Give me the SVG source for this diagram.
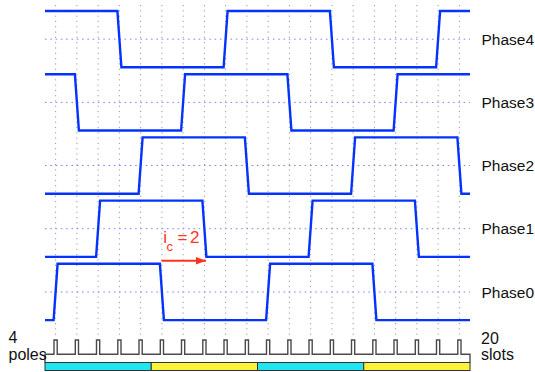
<svg xmlns="http://www.w3.org/2000/svg" width="535" height="372" viewBox="0 0 535 372">
<style>
.vgrid{stroke:#9a9a9a;stroke-width:1;stroke-dasharray:1.2 4.1;fill:none}
.hgrid{stroke:#7a88ff;stroke-width:1;stroke-dasharray:1.6 3.7;fill:none}
.wave{stroke:#0433ff;stroke-width:2.4;fill:none;stroke-linejoin:miter}
.lbl{font-family:"Liberation Sans",Arial,Helvetica,sans-serif;font-size:15.5px;fill:#111}
.blbl{font-family:"Liberation Sans",Arial,Helvetica,sans-serif;font-size:16px;fill:#111}
.red{font-family:"Liberation Sans",Arial,Helvetica,sans-serif;fill:#ff3322}
.slots{stroke:#4a4a4a;stroke-width:1.4;fill:#fff}
.bar{stroke:#333;stroke-width:1}
</style>
<defs>
<marker id="ah" markerWidth="10" markerHeight="8" refX="10" refY="4" orient="auto" markerUnits="userSpaceOnUse">
<path d="M0,0.3 L10,4 L0,7.7 Z" fill="#ff3322"/>
</marker>
</defs>
<rect width="535" height="372" fill="#fff"/>
<g id="grid">
<g class="vgrid">
<line x1="55.625" y1="5" x2="55.625" y2="336"/>
<line x1="76.875" y1="5" x2="76.875" y2="336"/>
<line x1="98.125" y1="5" x2="98.125" y2="336"/>
<line x1="119.375" y1="5" x2="119.375" y2="336"/>
<line x1="140.625" y1="5" x2="140.625" y2="336"/>
<line x1="161.875" y1="5" x2="161.875" y2="336"/>
<line x1="183.125" y1="5" x2="183.125" y2="336"/>
<line x1="204.375" y1="5" x2="204.375" y2="336"/>
<line x1="225.625" y1="5" x2="225.625" y2="336"/>
<line x1="246.875" y1="5" x2="246.875" y2="336"/>
<line x1="268.125" y1="5" x2="268.125" y2="336"/>
<line x1="289.375" y1="5" x2="289.375" y2="336"/>
<line x1="310.625" y1="5" x2="310.625" y2="336"/>
<line x1="331.875" y1="5" x2="331.875" y2="336"/>
<line x1="353.125" y1="5" x2="353.125" y2="336"/>
<line x1="374.375" y1="5" x2="374.375" y2="336"/>
<line x1="395.625" y1="5" x2="395.625" y2="336"/>
<line x1="416.875" y1="5" x2="416.875" y2="336"/>
<line x1="438.125" y1="5" x2="438.125" y2="336"/>
<line x1="459.375" y1="5" x2="459.375" y2="336"/>
</g>
<g class="hgrid">
<line x1="45" y1="39.2" x2="470" y2="39.2"/>
<line x1="45" y1="102.4" x2="470" y2="102.4"/>
<line x1="45" y1="165.5" x2="470" y2="165.5"/>
<line x1="45" y1="228.7" x2="470" y2="228.7"/>
<line x1="45" y1="292" x2="470" y2="292"/>
</g>
</g>
<g id="phase4">
<path class="wave" d="M45,11 H117.4 L121.4,67.3 H223.6 L227.6,11 H329.9 L333.9,67.3 H436.1 L440.1,11 H470"/>
<text class="lbl" x="481.5" y="44.8">Phase4</text>
</g>
<g id="phase3">
<path class="wave" d="M45,74.2 H74.9 L78.9,130.5 H181.1 L185.1,74.2 H287.4 L291.4,130.5 H393.6 L397.6,74.2 H470"/>
<text class="lbl" x="481.5" y="107.8">Phase3</text>
</g>
<g id="phase2">
<path class="wave" d="M45,193.7 H138.6 L142.6,137.4 H244.9 L248.9,193.7 H351.1 L355.1,137.4 H457.4 L461.4,193.7 H470"/>
<text class="lbl" x="481.5" y="171">Phase2</text>
</g>
<g id="phase1">
<path class="wave" d="M45,256.9 H96.1 L100.1,200.6 H202.4 L206.4,256.9 H308.6 L312.6,200.6 H414.9 L418.9,256.9 H470"/>
<text class="lbl" x="481.5" y="234.2">Phase1</text>
</g>
<g id="phase0">
<path class="wave" d="M45,320.1 H53.6 L57.6,263.8 H159.9 L163.9,320.1 H266.1 L270.1,263.8 H372.4 L376.4,320.1 H470"/>
<text class="lbl" x="481.5" y="297.5">Phase0</text>
</g>
<g id="ic-annotation">
<text class="red" font-size="17" x="163.3" y="243">i</text>
<text class="red" font-size="13" x="166.5" y="250.5">c</text>
<text class="red" font-size="17" x="177.5" y="243">=</text>
<text class="red" font-size="17" x="190" y="243">2</text>
<line x1="161.5" y1="260.7" x2="206" y2="260.7" stroke="#ff3322" stroke-width="2" marker-end="url(#ah)"/>
</g>
<g id="slots">
<path class="slots" d="M45,362.5 V354.3 H54 V340 H57.2 V354.3 H75.3 V340 H78.5 V354.3 H96.5 V340 H99.7 V354.3 H117.8 V340 H121 V354.3 H139 V340 H142.2 V354.3 H160.3 V340 H163.5 V354.3 H181.5 V340 H184.7 V354.3 H202.8 V340 H206 V354.3 H224 V340 H227.2 V354.3 H245.3 V340 H248.5 V354.3 H266.5 V340 H269.7 V354.3 H287.8 V340 H291 V354.3 H309 V340 H312.2 V354.3 H330.3 V340 H333.5 V354.3 H351.5 V340 H354.7 V354.3 H372.8 V340 H376 V354.3 H394 V340 H397.2 V354.3 H415.3 V340 H418.5 V354.3 H436.5 V340 H439.7 V354.3 H457.8 V340 H461 V354.3 H470 V362.5"/>
<text class="blbl" x="481" y="343.5">20</text>
<text class="blbl" x="481" y="359.5">slots</text>
</g>
<g id="poles">
<rect class="bar" x="45" y="362.5" width="106.25" height="8" fill="#1fe6f0"/>
<rect class="bar" x="151.25" y="362.5" width="106.25" height="8" fill="#fff23a"/>
<rect class="bar" x="257.5" y="362.5" width="106.25" height="8" fill="#1fe6f0"/>
<rect class="bar" x="363.75" y="362.5" width="106.25" height="8" fill="#fff23a"/>
<text class="blbl" x="8.5" y="343">4</text>
<text class="blbl" x="8.5" y="359.5">poles</text>
</g>
</svg>
